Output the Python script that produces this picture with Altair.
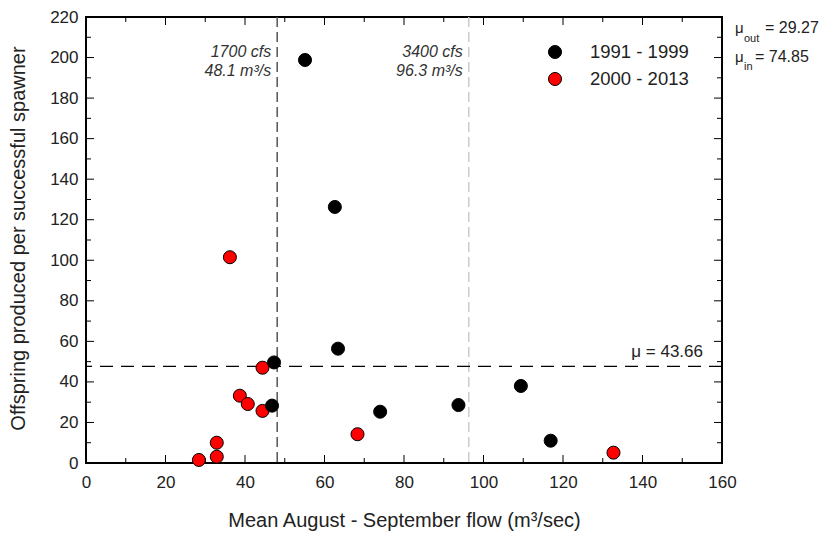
import altair as alt
import pandas as pd

# ---- data ----
series = ["1991 - 1999", "2000 - 2013"]
colors = ["#000000", "#ff0000"]

x_old = [55.1, 62.6, 63.4, 47.3, 46.8, 74.0, 93.7, 109.4, 116.9]
y_old = [198.8, 126.3, 56.4, 49.6, 28.3, 25.3, 28.6, 38.0, 11.0]
x_new = [36.2, 44.4, 38.7, 40.7, 44.4, 32.9, 32.9, 28.4, 68.3, 132.7]
y_new = [101.5, 47.0, 33.2, 29.1, 25.7, 10.0, 3.1, 1.5, 14.2, 5.1]

x_major = [0, 20, 40, 60, 80, 100, 120, 140, 160]
x_minor = [10, 30, 50, 70, 90, 110, 130, 150]
y_major = [0, 20, 40, 60, 80, 100, 120, 140, 160, 180, 200, 220]
y_minor = [10, 30, 50, 70, 90, 110, 130, 150, 170, 190, 210]

flow_lines = [48.1, 96.3]
flow_cfs = ["1700 cfs", "3400 cfs"]
flow_m3 = ["48.1 m³/s", "96.3 m³/s"]
mean_line = 47.7
mean_label = "μ = 43.66"
mu_out = "= 29.27"
mu_in = "= 74.85"

W, H = 636, 446
FONT = "Liberation Sans"
TXT = "#222222"

xs = alt.Scale(domain=[0, 160], nice=False, zero=False)
ys = alt.Scale(domain=[0, 220], nice=False, zero=False)

X_AX = alt.Axis(values=x_major, ticks=False, domain=False, grid=False, labelFlush=False,
                labelFontSize=17, labelPadding=11, labelColor=TXT, labelFont=FONT,
                title="Mean August - September flow (m³/sec)",
                titleFontSize=20, titleFontWeight="normal", titleFont=FONT,
                titleColor=TXT, titleY=57, titleBaseline="middle")
Y_AX = alt.Axis(values=y_major, ticks=False, domain=False, grid=False, labelFlush=False,
                labelFontSize=17, labelPadding=8, labelColor=TXT, labelFont=FONT,
                title="Offspring produced per successful spawner",
                titleFontSize=20, titleFontWeight="normal", titleFont=FONT,
                titleColor=TXT, titleX=-68, titleY=221,
                titleBaseline="middle", titleAlign="center", titleAngle=-90)

def X(f):
    return alt.X(f, scale=xs, axis=X_AX)

def Y(f):
    return alt.Y(f, scale=ys, axis=Y_AX)

df = pd.DataFrame(
    {"x": x_new + x_old, "y": y_new + y_old,
     "series": [series[1]] * len(x_new) + [series[0]] * len(x_old)}
)

points = alt.Chart(df).mark_circle(size=170, stroke="black", strokeWidth=1, opacity=1).encode(
    x=X("x:Q"), y=Y("y:Q"),
    fill=alt.Fill("series:N", scale=alt.Scale(domain=series, range=colors), legend=None),
)

def xticks(vals, y0, y1):
    return alt.Chart(pd.DataFrame({"x": vals})).mark_rule(color="black", strokeWidth=1).encode(
        x=X("x:Q"), y=alt.value(y0), y2=alt.value(y1))

def yticks(vals, x0, x1):
    return alt.Chart(pd.DataFrame({"y": vals})).mark_rule(color="black", strokeWidth=1).encode(
        y=Y("y:Q"), x=alt.value(x0), x2=alt.value(x1))

ticks = [
    xticks(x_major, H, H - 8), xticks(x_minor, H, H - 5),
    xticks(x_major, 0, 8), xticks(x_minor, 0, 5),
    yticks(y_major, 0, 8), yticks(y_minor, 0, 5),
    yticks(y_major, W, W - 8), yticks(y_minor, W, W - 5),
]

vdark = alt.Chart(pd.DataFrame({"x": [flow_lines[0]]})).mark_rule(
    color="#555555", strokeWidth=1.5, strokeDash=[10, 5]).encode(x=X("x:Q"))
vlight = alt.Chart(pd.DataFrame({"x": [flow_lines[1]]})).mark_rule(
    color="#cccccc", strokeWidth=1.5, strokeDash=[10, 5]).encode(x=X("x:Q"))
hmean = alt.Chart(pd.DataFrame({"y": [mean_line]})).mark_rule(
    color="black", strokeWidth=1.2, strokeDash=[13, 8]).encode(y=Y("y:Q"))

flow_df = pd.DataFrame({"x": flow_lines, "cfs": flow_cfs, "m3": flow_m3})
cfs_txt = alt.Chart(flow_df).mark_text(
    align="right", baseline="middle", dx=-6, fontSize=16, fontStyle="italic",
    font=FONT, color="#333333").encode(x=X("x:Q"), y=alt.value(35), text="cfs:N")
m3_txt = alt.Chart(flow_df).mark_text(
    align="right", baseline="middle", dx=-6, fontSize=16, fontStyle="italic",
    font=FONT, color="#333333").encode(x=X("x:Q"), y=alt.value(54), text="m3:N")

mean_txt = alt.Chart(pd.DataFrame({"t": [mean_label]})).mark_text(
    align="right", baseline="alphabetic", fontSize=17, font=FONT, color=TXT).encode(
    x=alt.value(617), y=alt.value(340), text="t:N")

def label(text, x, y, size, baseline="alphabetic"):
    return alt.Chart(pd.DataFrame({"t": [text]})).mark_text(
        align="left", baseline=baseline, fontSize=size, font=FONT, color=TXT).encode(
        x=alt.value(x), y=alt.value(y), text="t:N")

mu_labels = [
    label("μ", 649, 16, 15), label("out", 658, 25, 11), label(mu_out, 679, 16, 16),
    label("μ", 649, 45, 15), label("in", 658, 53, 11), label(mu_in, 669, 45, 16),
]

legend_layers = []
for i, (s, c) in enumerate(zip(series, colors)):
    ly = 35 + 27 * i
    legend_layers.append(
        alt.Chart(pd.DataFrame({"s": [s]})).mark_circle(
            size=170, stroke="black", strokeWidth=1, color=c, opacity=1).encode(
            x=alt.value(469), y=alt.value(ly)))
    legend_layers.append(label(s, 504, ly, 18.5, baseline="middle"))

chart = alt.layer(
    vdark, vlight, hmean, *ticks, points, cfs_txt, m3_txt, mean_txt, *mu_labels, *legend_layers
).properties(
    width=W, height=H, autosize="none",
    padding={"left": 86, "top": 17, "right": 108, "bottom": 70},
    background="white",
).configure_view(stroke="black", strokeWidth=2)

chart.save("out.html", embed_options={"renderer": "svg", "actions": False})
